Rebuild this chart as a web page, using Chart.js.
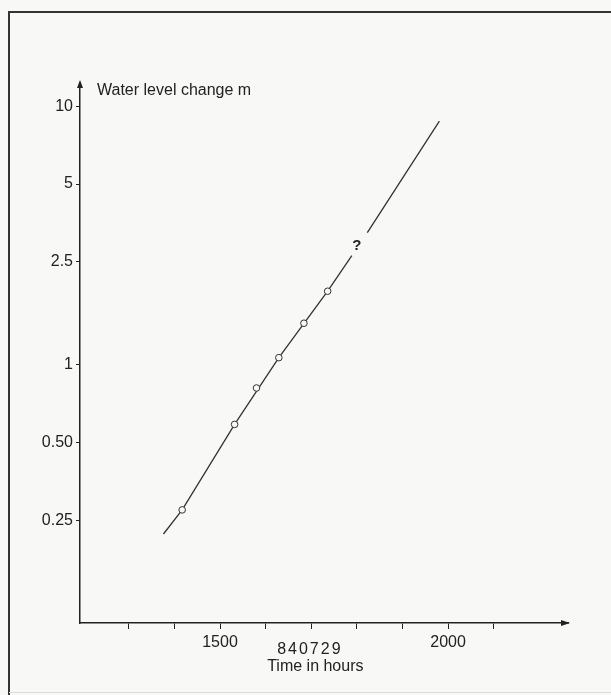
<!DOCTYPE html>
<html>
<head>
<meta charset="utf-8">
<script src="https://cdn.jsdelivr.net/npm/chart.js@4/dist/chart.umd.min.js"></script>
<style>
html,body{margin:0;padding:0;background:#f8f9f6;}
canvas{display:block;}
</style>
</head>
<body>
<canvas id="c" width="611" height="695"></canvas>
<script>
// observed points (hours, water level change m)
const obsHours = [1417, 1532, 1580, 1629, 1684, 1736];
const obsLevels = [0.274, 0.587, 0.812, 1.064, 1.446, 1.923];
// drawn trend curve (null = gap around the "?")
const curveHours = [1376, 1417, 1532, 1629, 1736, 1789, 1806, 1823, 1981];
const curveLevels = [0.221, 0.274, 0.587, 1.064, 1.923, 2.64, null, 3.24, 8.76];
// axes
const xTickValues = [1300, 1400, 1500, 1600, 1700, 1800, 1900, 2000, 2100];
const xTickLabels = ['', '', '1500', '', '', '', '', '2000', ''];
const yTickValues = [0.25, 0.5, 1, 2.5, 5, 10];
const yTickLabels = ['0.25', '0.50', '1', '2.5', '5', '10'];
const yTitle = 'Water level change m';
const xTitle = 'Time in hours';
const figId = '840729';
const queryMark = '?';
const queryPos = [1800, 2.89];

const FONT = '"Liberation Sans", Arial, sans-serif';
const INK = '#222222';

const deco = {
  id: 'deco',
  beforeDraw(chart) {
    const ctx = chart.ctx;
    ctx.save();
    ctx.fillStyle = '#f8f9f6';
    ctx.fillRect(0, 0, chart.width, chart.height);
    ctx.restore();
  },
  afterDraw(chart) {
    const ctx = chart.ctx;
    const a = chart.chartArea;
    const xs = chart.scales.x, ys = chart.scales.y;
    ctx.save();
    // frame
    ctx.strokeStyle = '#333';
    ctx.lineWidth = 2;
    ctx.beginPath();
    ctx.moveTo(9, 695); ctx.lineTo(9, 12); ctx.lineTo(611, 12);
    ctx.stroke();
    ctx.strokeStyle = '#ddd';
    ctx.lineWidth = 1;
    ctx.beginPath(); ctx.moveTo(9, 692.5); ctx.lineTo(611, 692.5); ctx.stroke();
    // arrows
    ctx.fillStyle = INK;
    ctx.beginPath();
    ctx.moveTo(a.left, a.top - 3); ctx.lineTo(a.left - 3, a.top + 5); ctx.lineTo(a.left + 3, a.top + 5);
    ctx.closePath(); ctx.fill();
    ctx.beginPath();
    ctx.moveTo(a.right + 2, a.bottom); ctx.lineTo(a.right - 7, a.bottom - 3); ctx.lineTo(a.right - 7, a.bottom + 3);
    ctx.closePath(); ctx.fill();
    // y title
    ctx.fillStyle = INK;
    ctx.font = '16px ' + FONT;
    ctx.textAlign = 'left';
    ctx.textBaseline = 'alphabetic';
    ctx.fillText(yTitle, a.left + 17, a.top + 12);
    // question mark
    ctx.font = 'bold 15px ' + FONT;
    ctx.textAlign = 'center';
    ctx.textBaseline = 'middle';
    ctx.fillText(queryMark, xs.getPixelForValue(queryPos[0]), ys.getPixelForValue(queryPos[1]));
    // figure id and x title
    ctx.font = '16px ' + FONT;
    try { ctx.letterSpacing = '2px'; } catch (e) {}
    ctx.textBaseline = 'middle';
    ctx.fillText(figId, xs.getPixelForValue(1697), a.bottom + 27);
    try { ctx.letterSpacing = '0px'; } catch (e) {}
    ctx.font = '16px ' + FONT;
    ctx.fillText(xTitle, xs.getPixelForValue(1709), a.bottom + 44);
    ctx.restore();
  }
};

new Chart(document.getElementById('c'), {
  type: 'scatter',
  data: {
    datasets: [
      {
        order: 2,
        data: curveHours.map((h, i) => ({ x: h, y: curveLevels[i] })),
        showLine: true,
        spanGaps: false,
        borderColor: '#333333',
        borderWidth: 1.3,
        pointRadius: 0,
        tension: 0
      },
      {
        order: 1,
        data: obsHours.map((h, i) => ({ x: h, y: obsLevels[i] })),
        showLine: false,
        pointRadius: 3.3,
        pointBackgroundColor: '#f8f9f6',
        pointBorderColor: '#333333',
        pointBorderWidth: 1
      }
    ]
  },
  options: {
    responsive: false,
    animation: false,
    layout: { padding: { top: 83, right: 43, left: 0, bottom: 0 } },
    plugins: { legend: { display: false }, tooltip: { enabled: false } },
    scales: {
      x: {
        type: 'linear',
        min: 1193,
        max: 2263,
        afterBuildTicks: s => { s.ticks = xTickValues.map(v => ({ value: v })); },
        afterFit: s => { s.height = 72; },
        ticks: {
          autoSkip: false,
          maxRotation: 0,
          padding: 4,
          color: INK,
          font: { family: FONT, size: 16 },
          callback: (v, i) => xTickLabels[i]
        },
        grid: { drawOnChartArea: false, drawTicks: true, tickLength: 6, tickColor: INK, tickWidth: 1 },
        border: { display: true, color: INK, width: 1.5 }
      },
      y: {
        type: 'logarithmic',
        min: 0.1,
        max: 12.3,
        afterBuildTicks: s => { s.ticks = yTickValues.map(v => ({ value: v })); },
        afterFit: s => { s.width = 80; },
        ticks: {
          autoSkip: false,
          padding: 3,
          color: INK,
          font: { family: FONT, size: 16 },
          callback: (v, i) => yTickLabels[i]
        },
        grid: { drawOnChartArea: false, drawTicks: true, tickLength: 4, tickColor: INK, tickWidth: 1 },
        border: { display: true, color: INK, width: 1.5 }
      }
    }
  },
  plugins: [deco]
});
</script>
</body>
</html>
